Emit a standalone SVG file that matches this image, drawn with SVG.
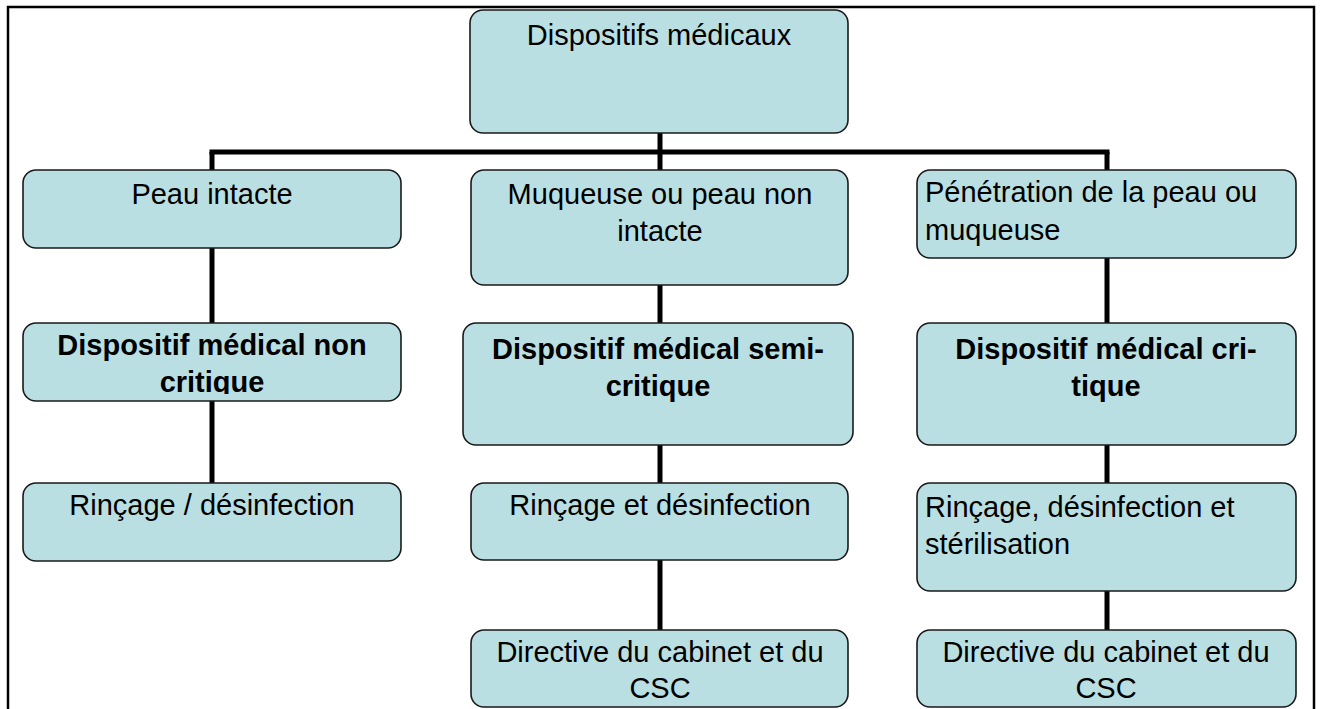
<svg xmlns="http://www.w3.org/2000/svg" width="1320" height="709" viewBox="0 0 1320 709">
  <style>
    .box { fill: #b9dfe3; stroke: #1a1a1a; stroke-width: 1.6; }
    .t { font-family: "Liberation Sans", Arial, sans-serif; font-size: 29px; fill: #000; }
    .c { text-anchor: middle; }
    .b { font-weight: bold; }
    .conn { stroke: #000; stroke-width: 5; fill: none; }
    .frame { stroke: #000; stroke-width: 2.5; fill: none; }
  </style>
  <defs>
    <clipPath id="clipL2"><rect x="23" y="323" width="378" height="71"/></clipPath>
  </defs>
  <rect x="0" y="0" width="1320" height="709" fill="#fff"/>
  <path class="frame" d="M8,712 V7 H1314 V712"/>

  <g id="connectors">
    <line class="conn" x1="660" y1="133" x2="660" y2="170"/>
    <line class="conn" x1="209.5" y1="152" x2="1109.5" y2="152"/>
    <line class="conn" x1="212" y1="152" x2="212" y2="170"/>
    <line class="conn" x1="1107" y1="152" x2="1107" y2="170"/>
    <line class="conn" x1="212" y1="248" x2="212" y2="323"/>
    <line class="conn" x1="212" y1="401" x2="212" y2="483"/>
    <line class="conn" x1="660" y1="285" x2="660" y2="323"/>
    <line class="conn" x1="660" y1="445" x2="660" y2="483"/>
    <line class="conn" x1="660" y1="560" x2="660" y2="630"/>
    <line class="conn" x1="1107" y1="258" x2="1107" y2="323"/>
    <line class="conn" x1="1107" y1="445" x2="1107" y2="483"/>
    <line class="conn" x1="1107" y1="591" x2="1107" y2="630"/>
  </g>

  <g id="n-root">
    <rect class="box" x="470" y="10" width="378" height="123" rx="13"/>
    <text class="t c" x="659" y="45">Dispositifs médicaux</text>
  </g>

  <g id="n-peau-intacte">
    <rect class="box" x="23" y="170" width="378" height="78" rx="13"/>
    <text class="t c" x="212" y="204">Peau intacte</text>
  </g>
  <g id="n-muqueuse">
    <rect class="box" x="471" y="170" width="377" height="115" rx="13"/>
    <text class="t c" x="660" y="204">Muqueuse ou peau non</text>
    <text class="t c" x="660" y="241">intacte</text>
  </g>
  <g id="n-penetration">
    <rect class="box" x="917" y="170" width="379" height="88" rx="13"/>
    <text class="t" x="925" y="202">Pénétration de la peau ou</text>
    <text class="t" x="925" y="240">muqueuse</text>
  </g>

  <g id="n-non-critique">
    <rect class="box" x="23" y="323" width="378" height="78" rx="13"/>
    <g clip-path="url(#clipL2)">
      <text class="t c b" x="212" y="355">Dispositif médical non</text>
      <text class="t c b" x="212" y="392">critique</text>
    </g>
  </g>
  <g id="n-semi-critique">
    <rect class="box" x="463" y="323" width="390" height="122" rx="13"/>
    <text class="t c b" x="658" y="359">Dispositif médical semi-</text>
    <text class="t c b" x="658" y="396">critique</text>
  </g>
  <g id="n-critique">
    <rect class="box" x="917" y="323" width="379" height="122" rx="13"/>
    <text class="t c b" x="1106" y="359">Dispositif médical cri-</text>
    <text class="t c b" x="1106" y="396">tique</text>
  </g>

  <g id="n-rincage-l">
    <rect class="box" x="23" y="483" width="378" height="78" rx="13"/>
    <text class="t c" x="212" y="515">Rinçage / désinfection</text>
  </g>
  <g id="n-rincage-m">
    <rect class="box" x="471" y="483" width="377" height="77" rx="13"/>
    <text class="t c" x="660" y="515">Rinçage et désinfection</text>
  </g>
  <g id="n-rincage-r">
    <rect class="box" x="917" y="483" width="379" height="108" rx="13"/>
    <text class="t" x="925" y="517">Rinçage, désinfection et</text>
    <text class="t" x="925" y="554">stérilisation</text>
  </g>

  <g id="n-directive-m">
    <rect class="box" x="471" y="630" width="377" height="77" rx="13"/>
    <text class="t c" x="660" y="662">Directive du cabinet et du</text>
    <text class="t c" x="660" y="698">CSC</text>
  </g>
  <g id="n-directive-r">
    <rect class="box" x="917" y="630" width="379" height="77" rx="13"/>
    <text class="t c" x="1106" y="662">Directive du cabinet et du</text>
    <text class="t c" x="1106" y="698">CSC</text>
  </g>
</svg>
